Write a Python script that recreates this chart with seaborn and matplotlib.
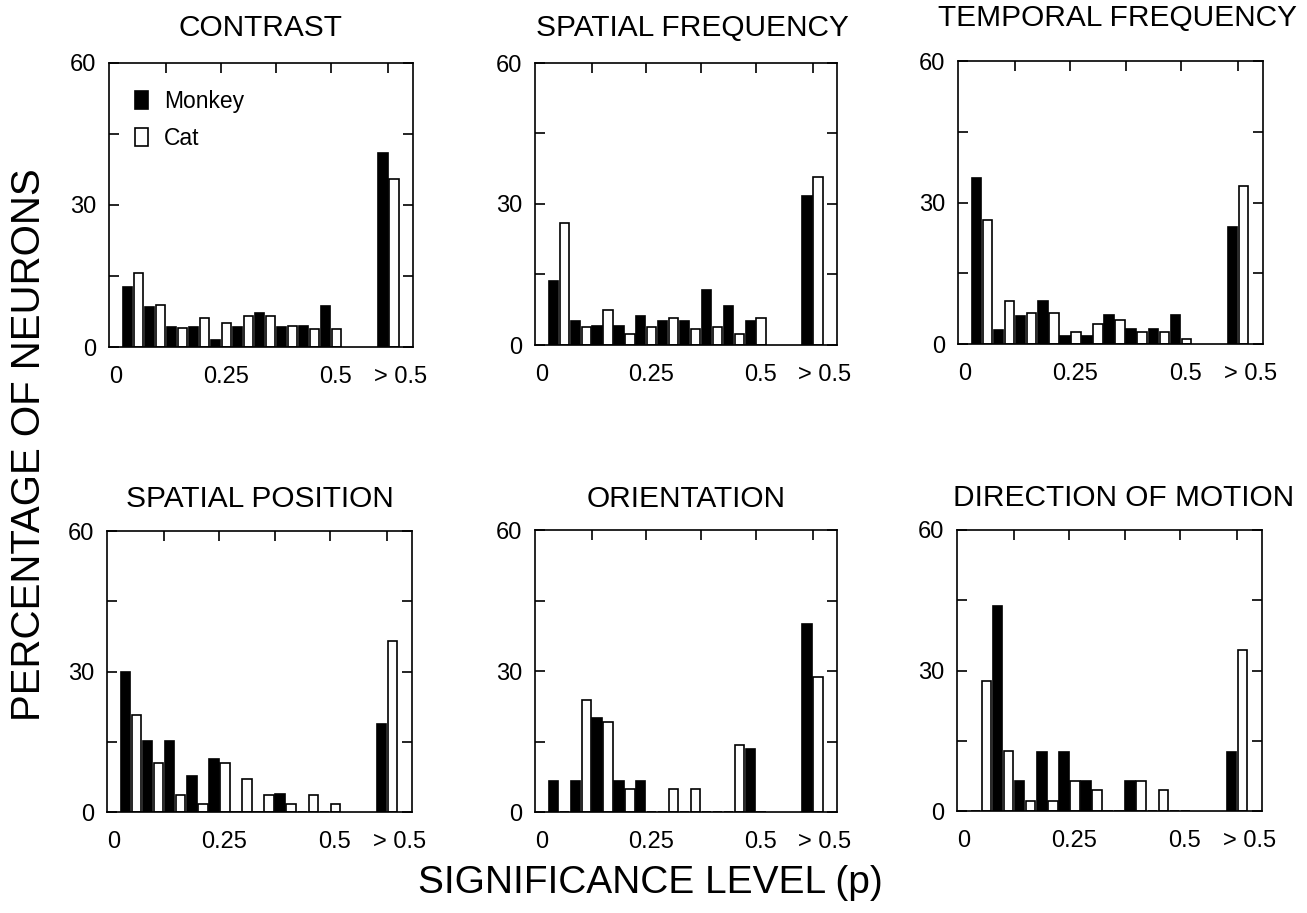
import numpy as np
import pandas as pd
import matplotlib
matplotlib.use("Agg")
import matplotlib.pyplot as plt
from matplotlib.patches import Patch
import seaborn as sns

# ---------------- data ----------------
bin_labels = ["0-0.05", "0.05-0.1", "0.1-0.15", "0.15-0.2", "0.2-0.25",
              "0.25-0.3", "0.3-0.35", "0.35-0.4", "0.4-0.45", "0.45-0.5", "> 0.5"]
species = ["Monkey", "Cat"]

contrast_monkey = [12.7, 8.5, 4.2, 4.2, 1.4, 4.2, 7.2, 4.2, 4.4, 8.6, 41.0]
contrast_cat = [15.7, 8.8, 4.1, 6.1, 5.1, 6.5, 6.5, 4.5, 3.7, 3.7, 35.4]

spatfreq_monkey = [13.6, 5.1, 4.1, 4.1, 6.2, 5.1, 5.1, 11.6, 8.4, 5.1, 31.8]
spatfreq_cat = [26.0, 3.9, 7.4, 2.3, 3.9, 5.7, 3.4, 3.9, 2.3, 5.8, 35.8]

tempfreq_monkey = [35.2, 2.9, 6.0, 9.2, 1.7, 1.6, 6.2, 3.1, 3.1, 6.2, 24.7]
tempfreq_cat = [26.2, 9.2, 6.6, 6.6, 2.5, 4.2, 5.0, 2.5, 2.5, 1.0, 33.5]

position_monkey = [29.8, 15.1, 15.1, 7.6, 11.4, 0.0, 0.0, 3.9, 0.0, 0.0, 18.8]
position_cat = [20.8, 10.4, 3.6, 1.8, 10.4, 7.0, 3.6, 1.8, 3.6, 1.8, 36.5]

orient_monkey = [6.7, 6.7, 20.1, 6.7, 6.7, 0.0, 0.0, 0.0, 0.0, 13.4, 40.1]
orient_cat = [0.0, 23.8, 19.1, 4.8, 0.0, 4.8, 4.8, 0.0, 14.3, 0.0, 28.8]

direction_monkey = [0.0, 43.7, 6.3, 12.6, 12.6, 6.3, 0.0, 6.3, 0.0, 0.0, 12.6]
direction_cat = [27.7, 12.9, 2.1, 2.1, 6.3, 4.4, 0.0, 6.3, 4.4, 0.0, 34.3]

titles = ["CONTRAST", "SPATIAL FREQUENCY", "TEMPORAL FREQUENCY",
          "SPATIAL POSITION", "ORIENTATION", "DIRECTION OF MOTION"]
series = [(contrast_monkey, contrast_cat), (spatfreq_monkey, spatfreq_cat),
          (tempfreq_monkey, tempfreq_cat), (position_monkey, position_cat),
          (orient_monkey, orient_cat), (direction_monkey, direction_cat)]

xtick_labels = ["0", "0.25", "0.5", "> 0.5"]
ytick_labels = ["0", "30", "60"]

# ---------------- layout ----------------
W, H = 1307, 913
sns.set_style("ticks")
plt.rcParams["font.family"] = ["Liberation Sans", "DejaVu Sans"]
plt.rcParams["text.color"] = "black"
plt.rcParams["axes.labelcolor"] = "black"
plt.rcParams["xtick.color"] = "black"
plt.rcParams["ytick.color"] = "black"

fig = plt.figure(figsize=(W / 100, H / 100), dpi=100)

# bin positions on a native numeric axis (bin width 0.05, '> 0.5' bin set apart)
bin_centers = list(np.round(np.arange(10) * 0.05 + 0.025, 4)) + [0.605]

# axes rectangles in pixels: left, top, right, bottom
rects = [(109, 63, 413, 347), (535, 63, 837, 345), (958, 61, 1263, 344),
         (107, 531, 412, 812), (535, 530, 837, 812), (957, 530, 1262, 811)]
# title centers / baselines in pixels
title_pos = [(260, 36), (692, 36), (1117, 26), (260, 507), (686, 507), (1124, 506)]

palette = {"Monkey": "black", "Cat": "white"}

for i, (title, (monkey, cat)) in enumerate(zip(titles, series)):
    l, t, r, b = rects[i]
    ax = fig.add_axes([l / W, 1 - b / H, (r - l) / W, (b - t) / H])
    df = pd.DataFrame({
        "p": bin_centers * 2,
        "bin": bin_labels * 2,
        "species": ["Monkey"] * len(monkey) + ["Cat"] * len(cat),
        "pct": list(monkey) + list(cat),
    })
    sns.barplot(data=df, x="p", y="pct", hue="species", hue_order=species,
                palette=palette, native_scale=True, width=1.0, gap=0.15,
                errorbar=None, saturation=1, edgecolor="black", linewidth=1.2,
                legend=False, ax=ax)
    ax.set_xlim(-0.0295, 0.661)
    ax.set_ylim(0, 60)
    ax.set_xlabel("")
    ax.set_ylabel("")
    for sp in ax.spines.values():
        sp.set_visible(True)
        sp.set_linewidth(1.2)
        sp.set_color("black")

    ax.set_xticks([-0.014, 0.236, 0.486, 0.632])
    ax.set_xticklabels(xtick_labels, fontsize=17)
    ax.set_xticks([0.1, 0.225, 0.35, 0.475, 0.605], minor=True)
    ax.tick_params(axis="x", which="major", bottom=True, top=False, length=0, pad=14,
                   labelcolor="black")
    ax.tick_params(axis="x", which="minor", bottom=False, top=True, direction="in",
                   length=7, width=1.2, color="black")

    ax.set_yticks([0, 30, 60])
    ax.set_yticklabels(ytick_labels, fontsize=17)
    ax.set_yticks([15, 45], minor=True)
    ax.tick_params(axis="y", which="both", left=True, right=True, direction="in",
                   length=7, width=1.2, color="black", labelleft=True, labelright=False)
    ax.tick_params(axis="y", which="major", pad=9, labelcolor="black")

    tx, ty = title_pos[i]
    fig.text(tx / W, 1 - ty / H, title, ha="center", va="baseline", fontsize=21.5,
             color="black")

    if i == 0:
        handles = [Patch(facecolor="black", edgecolor="black", linewidth=1.2, label="Monkey"),
                   Patch(facecolor="white", edgecolor="black", linewidth=1.2, label="Cat")]
        ax.legend(handles=handles, loc="upper left", bbox_to_anchor=(0.085, 0.905),
                  frameon=False, fontsize=16.5, handlelength=0.56, handleheight=0.8,
                  handletextpad=0.72, labelspacing=0.62, borderpad=0, borderaxespad=0,
                  labelcolor="black")

fig.text(29 / W, 1 - 445 / H, "PERCENTAGE OF NEURONS", rotation=90, ha="center",
         va="center", fontsize=29, color="black")
fig.text(650 / W, 1 - 883 / H, "SIGNIFICANCE LEVEL (p)", ha="center", va="center",
         fontsize=28, color="black")

fig.savefig("out.png", dpi=100, facecolor="white")
